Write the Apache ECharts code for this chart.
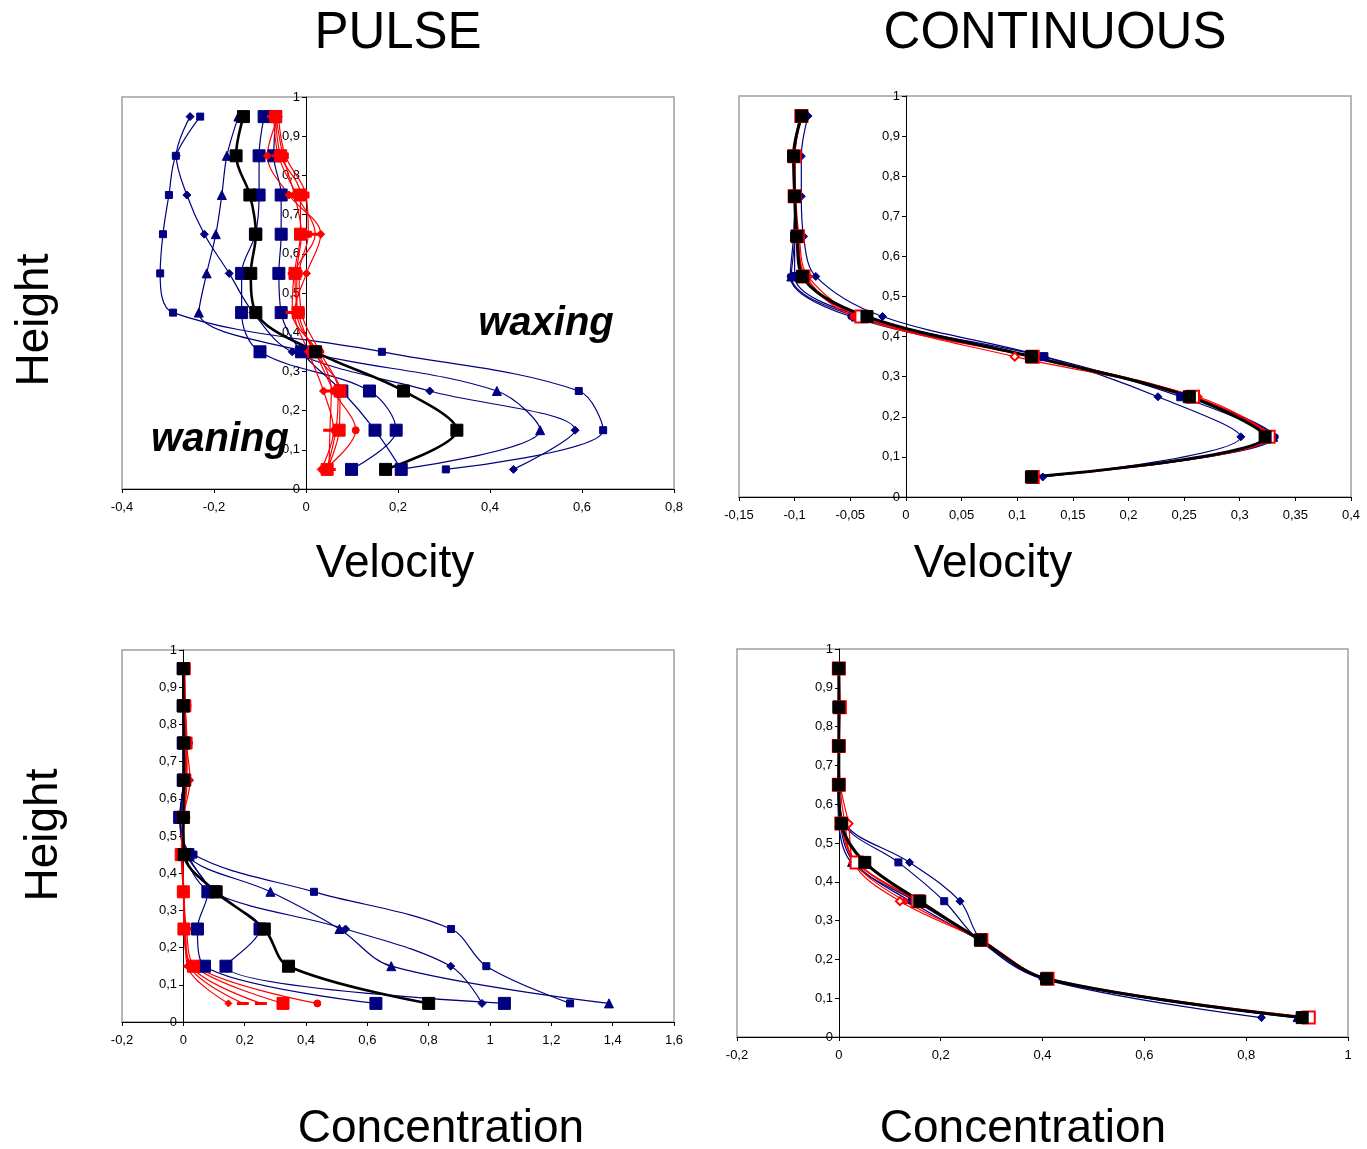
<!DOCTYPE html>
<html>
<head>
<meta charset="utf-8">
<script src="https://cdn.jsdelivr.net/npm/echarts@6/dist/echarts.min.js"></script>
<style>
html,body{margin:0;padding:0;background:#fff;}
#chart{width:1367px;height:1149px;}
</style>
</head>
<body>
<div id="chart"></div>
<script>
// Heights (y values shared by all profiles)
const H = [0.05, 0.15, 0.25, 0.35, 0.45, 0.55, 0.65, 0.75, 0.85, 0.95];

// ---- PULSE velocity (top-left) ----
const tlBlueSq   = [0.304, 0.646, 0.593, 0.165, -0.289, -0.317, -0.311, -0.298, -0.283, -0.230];
const tlBlueDia  = [0.451, 0.585, 0.269, -0.030, -0.115, -0.167, -0.221, -0.259, -0.282, -0.252];
const tlBlueTri  = [0.205, 0.509, 0.415, 0.000, -0.233, -0.216, -0.196, -0.183, -0.172, -0.147];
const tlBlueBig1 = [0.099, 0.196, 0.138, -0.100, -0.140, -0.140, -0.110, -0.102, -0.102, -0.091];
const tlBlueBig2 = [0.207, 0.150, 0.078, -0.010, -0.054, -0.059, -0.054, -0.054, -0.070, -0.066];
const tlRedDia   = [0.033, 0.060, 0.038, 0.005, -0.025, 0.001, 0.032, -0.037, -0.084, -0.060];
const tlRedCirc  = [0.040, 0.108, 0.060, 0.020, -0.020, -0.020, -0.010, -0.025, -0.050, -0.065];
const tlRedDash  = [0.050, 0.052, 0.055, 0.025, -0.030, -0.025, 0.020, -0.020, -0.060, -0.070];
const tlRedSq    = [0.045, 0.065, 0.070, 0.030, -0.010, -0.015, 0.005, 0.000, -0.045, -0.060];
const tlRedBig   = [0.046, 0.072, 0.074, 0.017, -0.017, -0.024, -0.012, -0.012, -0.055, -0.066];
const tlBlack    = [0.173, 0.328, 0.212, 0.021, -0.109, -0.120, -0.109, -0.122, -0.152, -0.136];

// ---- CONTINUOUS velocity (top-right) ----
const trBlueDia  = [0.123, 0.301, 0.2265, 0.124, -0.021, -0.081, -0.092, -0.094, -0.094, -0.088];
const trBlueSq   = [0.113, 0.327, 0.247, 0.124, -0.040, -0.100, -0.100, -0.100, -0.100, -0.095];
const trBlueTri  = [0.112, 0.330, 0.258, 0.115, -0.045, -0.103, -0.100, -0.100, -0.101, -0.095];
const trBlueCirc = [0.112, 0.332, 0.256, 0.113, -0.0495, -0.104, -0.101, -0.100, -0.100, -0.094];
const trRedBig   = [0.114, 0.326, 0.258, 0.114, -0.040, -0.092, -0.097, -0.100, -0.100, -0.094];
const trRedCirc  = [0.112, 0.328, 0.255, 0.110, -0.047, -0.090, -0.097, -0.100, -0.100, -0.094];
const trRedOpen  = [0.113, 0.327, 0.262, 0.0978, -0.040, -0.088, -0.096, -0.099, -0.100, -0.094];
const trBlack    = [0.1128, 0.3228, 0.2547, 0.1128, -0.035, -0.093, -0.098, -0.100, -0.101, -0.0936];

// ---- PULSE concentration (bottom-left) ----
const blBlueSq   = [1.261, 0.988, 0.873, 0.426, 0.033, -0.010, 0.000, 0.000, 0.000, 0.000];
const blBlueTri  = [1.388, 0.678, 0.509, 0.284, 0.010, -0.010, 0.000, 0.000, 0.000, 0.000];
const blBlueDia  = [0.974, 0.872, 0.529, 0.090, 0.005, -0.008, 0.000, 0.000, 0.000, 0.000];
const blBlueBig1 = [0.628, 0.069, 0.046, 0.080, 0.010, -0.012, 0.000, 0.000, 0.000, 0.000];
const blBlueBig2 = [1.047, 0.139, 0.250, 0.100, 0.015, -0.010, 0.000, 0.000, 0.000, 0.000];
const blRedDia   = [0.147, 0.013, 0.005, 0.000, -0.005, 0.000, 0.022, 0.010, 0.005, 0.003];
const blRedDash1 = [0.194, 0.020, 0.005, 0.000, -0.004, 0.002, 0.012, 0.010, 0.006, 0.004];
const blRedDash2 = [0.253, 0.025, 0.006, 0.001, -0.003, 0.003, 0.010, 0.012, 0.006, 0.004];
const blRedCirc  = [0.437, 0.040, 0.010, 0.002, -0.002, 0.002, 0.008, 0.010, 0.006, 0.004];
const blRedBig   = [0.325, 0.033, 0.002, 0.000, -0.007, 0.000, 0.005, 0.009, 0.005, 0.003];
const blBlack    = [0.800, 0.343, 0.264, 0.107, 0.003, 0.000, 0.002, 0.002, 0.000, 0.000];

// ---- CONTINUOUS concentration (bottom-right) ----
const brBlueSq   = [0.905, 0.405, 0.275, 0.207, 0.117, 0.010, 0.000, 0.000, 0.000, 0.000];
const brBlueDia  = [0.830, 0.400, 0.280, 0.238, 0.139, 0.012, 0.000, 0.000, 0.000, 0.000];
const brBlueTri  = [0.900, 0.405, 0.278, 0.150, 0.025, 0.000, -0.002, 0.000, 0.000, 0.000];
const brBlueCirc = [0.905, 0.407, 0.275, 0.140, 0.030, 0.003, 0.000, 0.000, 0.000, 0.000];
const brRedBig   = [0.923, 0.410, 0.280, 0.155, 0.035, 0.005, 0.000, 0.000, 0.002, 0.000];
const brRedOpen  = [0.925, 0.410, 0.278, 0.120, 0.029, 0.019, 0.003, 0.000, 0.000, 0.000];
const brRedCirc  = [0.920, 0.410, 0.280, 0.130, 0.030, 0.012, 0.002, 0.000, 0.000, 0.000];
const brBlack    = [0.910, 0.408, 0.278, 0.159, 0.051, 0.005, 0.000, 0.000, 0.000, 0.000];

// x-axis ranges [min, max, interval] per panel
const xRanges = [[-0.4, 0.8, 0.2], [-0.15, 0.4, 0.05], [-0.2, 1.6, 0.2], [-0.2, 1, 0.2]];

const NAVY = '#000080', RED = '#ff0000', BLACK = '#000000';
const FONT = '"Liberation Sans", Arial, sans-serif';

function fmt(v) { const r = Math.round(v * 100) / 100; return String(r).replace('.', ','); }

function mk(gi, vals, color, symbol, size, width) {
  return {
    type: 'line', xAxisIndex: gi, yAxisIndex: gi,
    data: vals.map((v, i) => [v, H[i]]),
    smooth: 0.35, symbol: symbol, symbolSize: size, showSymbol: true,
    lineStyle: { color: color, width: width },
    itemStyle: { color: color, borderColor: color },
    emphasis: { disabled: true }, animation: false
  };
}

const gridBoxes = [
  { left: 122, top: 97, width: 552, height: 392 },
  { left: 739, top: 96, width: 612, height: 401 },
  { left: 122, top: 650, width: 552, height: 372 },
  { left: 737, top: 649, width: 611, height: 388 }
];
const grids = gridBoxes.map(g => Object.assign({}, g, { show: true, borderColor: '#a0a0a0', borderWidth: 1.5, backgroundColor: '#fff' }));

const xAxes = xRanges.map((r, i) => ({
  type: 'value', gridIndex: i, min: r[0], max: r[1], interval: r[2],
  axisLine: { onZero: false, lineStyle: { color: '#000', width: 1 } },
  axisTick: { show: true, length: 4, lineStyle: { color: '#000' } },
  axisLabel: { fontSize: 13, color: '#000', fontFamily: FONT, margin: 12, formatter: fmt },
  splitLine: { show: false }
}));
const yAxes = xRanges.map((r, i) => ({
  type: 'value', gridIndex: i, min: 0, max: 1, interval: 0.1, position: 'left',
  // place the vertical axis where x = 0
  offset: -Math.round(gridBoxes[i].width * (0 - r[0]) / (r[1] - r[0])),
  axisLine: { onZero: false, lineStyle: { color: '#000', width: 1 } },
  axisTick: { show: true, length: 4, lineStyle: { color: '#000' } },
  axisLabel: { fontSize: 13, color: '#000', fontFamily: FONT, margin: 6, formatter: fmt },
  splitLine: { show: false }, z: 3
}));

const series = [
  // top-left
  mk(0, tlBlueSq, NAVY, 'rect', 7, 1.2),
  mk(0, tlBlueDia, NAVY, 'diamond', 8, 1.2),
  mk(0, tlBlueTri, NAVY, 'triangle', 9, 1.2),
  mk(0, tlBlueBig1, NAVY, 'rect', 12, 1.2),
  mk(0, tlBlueBig2, NAVY, 'rect', 12, 1.2),
  mk(0, tlRedDia, RED, 'diamond', 8, 1.2),
  mk(0, tlRedCirc, RED, 'circle', 7, 1.2),
  mk(0, tlRedDash, RED, 'rect', [9, 2], 1.2),
  mk(0, tlRedSq, RED, 'rect', 6, 1.2),
  mk(0, tlRedBig, RED, 'rect', 12, 1.2),
  mk(0, tlBlack, BLACK, 'rect', 12, 2.6),
  // top-right
  mk(1, trBlueDia, NAVY, 'diamond', 8, 1.2),
  mk(1, trBlueSq, NAVY, 'rect', 8, 1.2),
  mk(1, trBlueTri, NAVY, 'triangle', 9, 1.2),
  mk(1, trBlueCirc, NAVY, 'circle', 6, 1.2),
  mk(1, trRedCirc, RED, 'circle', 7, 1.2),
  mk(1, trRedOpen, RED, 'emptyDiamond', 8, 1.2),
  mk(1, trRedBig, RED, 'emptyRect', 12, 2),
  mk(1, trBlack, BLACK, 'rect', 12, 3),
  // bottom-left
  mk(2, blBlueSq, NAVY, 'rect', 7, 1.2),
  mk(2, blBlueTri, NAVY, 'triangle', 9, 1.2),
  mk(2, blBlueDia, NAVY, 'diamond', 8, 1.2),
  mk(2, blBlueBig1, NAVY, 'rect', 12, 1.2),
  mk(2, blBlueBig2, NAVY, 'rect', 12, 1.2),
  mk(2, blRedDia, RED, 'diamond', 7, 1.2),
  mk(2, blRedDash1, RED, 'rect', [8, 2], 1.2),
  mk(2, blRedDash2, RED, 'rect', [8, 2], 1.2),
  mk(2, blRedCirc, RED, 'circle', 7, 1.2),
  mk(2, blRedBig, RED, 'rect', 12, 1.2),
  mk(2, blBlack, BLACK, 'rect', 12, 2.6),
  // bottom-right
  mk(3, brBlueSq, NAVY, 'rect', 7, 1.2),
  mk(3, brBlueDia, NAVY, 'diamond', 8, 1.2),
  mk(3, brBlueTri, NAVY, 'triangle', 8, 1.2),
  mk(3, brBlueCirc, NAVY, 'circle', 6, 1.2),
  mk(3, brRedCirc, RED, 'circle', 6, 1.2),
  mk(3, brRedOpen, RED, 'emptyDiamond', 8, 1.2),
  mk(3, brRedBig, RED, 'emptyRect', 12, 2),
  mk(3, brBlack, BLACK, 'rect', 12, 3)
];

function txt(t, x, y, size, opts) {
  opts = opts || {};
  return {
    type: 'text', x: x, y: y, rotation: opts.rot || 0, z: 10,
    style: {
      text: t, fill: '#000', align: 'center', verticalAlign: 'middle',
      font: (opts.style || 'normal') + ' ' + (opts.weight || 'normal') + ' ' + size + 'px ' + FONT
    }
  };
}

const graphics = [
  txt('PULSE', 398, 34, 51),
  txt('CONTINUOUS', 1055, 34, 51),
  txt('Velocity', 395, 564, 46),
  txt('Velocity', 993, 564, 46),
  txt('Concentration', 441, 1129, 46),
  txt('Concentration', 1023, 1129, 46),
  txt('Height', 35, 320, 46, { rot: Math.PI / 2 }),
  txt('Height', 44, 835, 46, { rot: Math.PI / 2 }),
  txt('waxing', 546, 324, 40, { style: 'italic', weight: 'bold' }),
  txt('waning', 220, 440, 40, { style: 'italic', weight: 'bold' })
];

const chart = echarts.init(document.getElementById('chart'), null, { renderer: 'canvas' });
chart.setOption({
  backgroundColor: '#fff',
  animation: false,
  grid: grids,
  xAxis: xAxes,
  yAxis: yAxes,
  series: series,
  graphic: graphics
});
</script>
</body>
</html>
